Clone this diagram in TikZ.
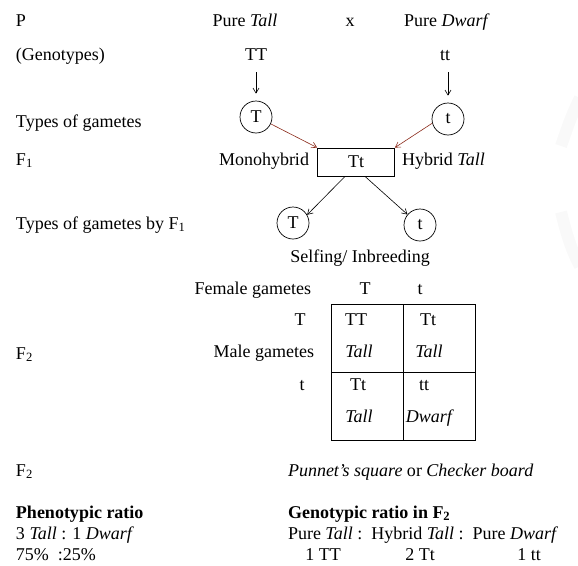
\documentclass[tikz,border=0pt]{standalone}
\usepackage{fontspec}
\setmainfont{Liberation Serif}
\usetikzlibrary{arrows.meta}
\definecolor{arrred}{HTML}{8B2A1A}
\tikzset{
  txt/.style={font=\fontsize{18}{21}\selectfont, inner sep=0pt, outer sep=0pt},
  gam/.style={circle, draw, line width=0.7pt, minimum size=32pt, inner sep=0pt, font=\fontsize{18}{21}\selectfont},
  arr/.style={-{Straight Barb[length=5pt,width=6pt]}, line width=0.6pt},
  redarr/.style={arr, draw=arrred},
  cell/.style={draw, line width=1pt, minimum width=72pt, minimum height=68pt, inner sep=0pt},
  wmark/.style={draw=gray!5, line width=12pt},
}
\begin{document}
\begin{tikzpicture}[x=1pt,y=-1pt]
\useasboundingbox (0,0) rectangle (578,565);
% faint watermark at the right edge
\draw[wmark] (580,98) .. controls (570,118) and (566,132) .. (561,146);
\draw[wmark] (561,212) .. controls (566,232) and (571,250) .. (580,266);
% column of labels
\node[txt, anchor=base west] (lP) at (16,26) {P};
\node[txt, anchor=base west] (lGen) at (16,60) {(Genotypes)};
\node[txt, anchor=base west] (lTypes) at (16,127) {Types of gametes};
\node[txt, anchor=base west] (lF1) at (16,165) {F\textsubscript{1}};
\node[txt, anchor=base west] (lTypesF1) at (16,229) {Types of gametes by F\textsubscript{1}};
\node[txt, anchor=base west] (lF2a) at (16,359) {F\textsubscript{2}};
\node[txt, anchor=base west] (lF2b) at (16,476) {F\textsubscript{2}};
% parents
\node[txt, anchor=base] (ptall) at (245,26) {Pure \textit{Tall}};
\node[txt, anchor=base] (cross) at (350,26) {x};
\node[txt, anchor=base] (pdwarf) at (447,26) {Pure \textit{Dwarf}};
\node[txt, anchor=base] (TT) at (256,60) {TT};
\node[txt, anchor=base] (tt) at (445,60) {tt};
\node[gam] (gT) at (256,117) {T};
\node[gam] (gt) at (448,119) {t};
\draw[arr, shorten <=12pt, shorten >=7pt] (TT.south) -- (gT.north);
\draw[arr, shorten <=12pt, shorten >=7pt] (tt.south -| gt.north) -- (gt.north);
% F1
\node[draw, line width=0.8pt, minimum width=77pt, minimum height=28pt, inner sep=0pt, font=\fontsize{18}{21}\selectfont] (F1) at (356,162) {Tt};
\node[txt, anchor=base east] (mono) at (309,165) {Monohybrid};
\node[txt, anchor=base west] (hyb) at (402,165) {Hybrid \textit{Tall}};
\draw[redarr] (gT.-25) -- (F1.north west);
\draw[redarr] (gt.-165) -- (F1.north east);
% gametes of F1
\node[gam] (fT) at (293,223) {T};
\node[gam] (ft) at (420,225) {t};
\draw[arr] ([xshift=-11pt]F1.south) -- (fT.30);
\draw[arr] ([xshift=9pt]F1.south) -- (ft.140);
\node[txt, anchor=base] (self) at (360,262) {Selfing/ Inbreeding};
% Punnett square
\node[txt, anchor=base east] (fem) at (311,294) {Female gametes};
\node[txt, anchor=base] (fT2) at (365,294) {T};
\node[txt, anchor=base] (ft2) at (420,294) {t};
\node[cell, anchor=north west] (c11) at (331,304) {};
\node[cell, anchor=north west] (c12) at (403,304) {};
\node[cell, anchor=north west] (c21) at (331,372) {};
\node[cell, anchor=north west] (c22) at (403,372) {};
\node[txt, anchor=base] (t11a) at (356,325) {TT};
\node[txt, anchor=base] (t11b) at (359,357) {\textit{Tall}};
\node[txt, anchor=base] (t12a) at (428,325) {Tt};
\node[txt, anchor=base] (t12b) at (429,357) {\textit{Tall}};
\node[txt, anchor=base] (t21a) at (358,390) {Tt};
\node[txt, anchor=base] (t21b) at (359,422) {\textit{Tall}};
\node[txt, anchor=base] (t22a) at (424,390) {tt};
\node[txt, anchor=base] (t22b) at (430,422) {\textit{Dwarf}};
\node[txt, anchor=base] (mT) at (300,325) {T};
\node[txt, anchor=base east] (male) at (314,357) {Male gametes};
\node[txt, anchor=base] (mt) at (302,390) {t};
% caption
\node[txt, anchor=base west] (punnet) at (288,476) {\textit{Punnet's square} or \textit{Checker board}};
% ratios
\node[txt, anchor=base west] (pheno) at (16,518) {\textbf{Phenotypic ratio}};
\node[txt, anchor=base west] (pheno1) at (16,539) {3 \textit{Tall} : 1 \textit{Dwarf}};
\node[txt, anchor=base west] (pheno2) at (16,560) {75\% \ :25\%};
\node[txt, anchor=base west] (geno) at (288,518) {\textbf{Genotypic ratio in F\textsubscript{2}}};
\node[txt, anchor=base west] (geno1) at (288,539) {Pure \textit{Tall} : \,Hybrid \textit{Tall} : \,Pure \textit{Dwarf}};
\node[txt, anchor=base] (g1) at (323,560) {1 TT};
\node[txt, anchor=base] (g2) at (420,560) {2 Tt};
\node[txt, anchor=base] (g3) at (529,560) {1 tt};
\end{tikzpicture}
\end{document}
